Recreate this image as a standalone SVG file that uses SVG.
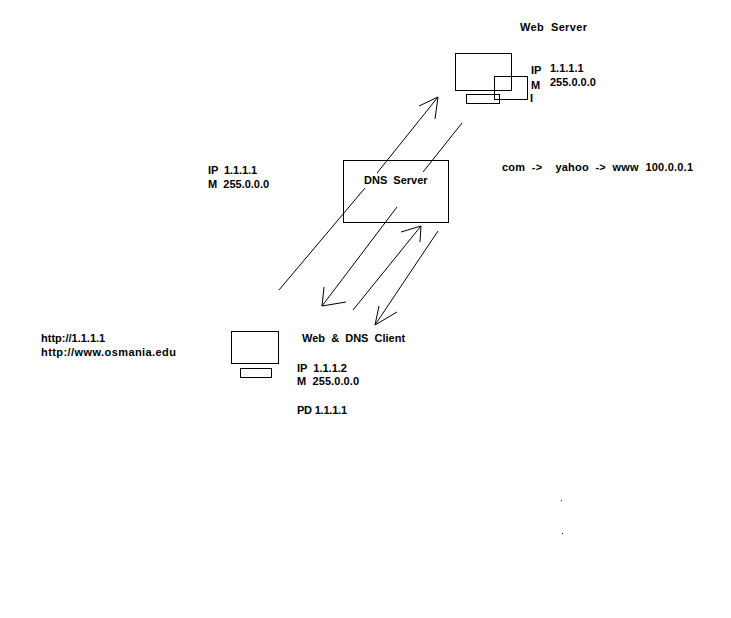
<svg xmlns="http://www.w3.org/2000/svg" width="731" height="618" viewBox="0 0 731 618">
<style>
rect{fill:none;stroke:#000;stroke-width:1;shape-rendering:crispEdges}
.c line,.c polyline{fill:none;stroke:#000;stroke-width:1}
text{font-family:"Liberation Sans",Arial,sans-serif;font-size:11px;font-weight:bold;fill:#000;white-space:pre}
</style>
<rect width="731" height="618" style="fill:#fff;stroke:none"/>
<g id="web-server">
<rect x="455.5" y="53.5" width="56" height="37"/>
<rect x="466.5" y="94.5" width="33" height="9"/>
<rect x="494.5" y="76.5" width="33" height="23"/>
<text x="520" y="31" textLength="67">Web  Server</text>
<text x="531" y="74">IP</text>
<text x="531" y="89">M</text>
<text x="530" y="102">I</text>
<text x="550" y="72">1.1.1.1</text>
<text x="550" y="86">255.0.0.0</text>
</g>
<g id="dns-server">
<rect x="343.5" y="160.5" width="105" height="62"/>
<text x="364" y="184">DNS  Server</text>
</g>
<g id="web-dns-client">
<rect x="231.5" y="331.5" width="47" height="32"/>
<rect x="240.5" y="368.5" width="31" height="9"/>
<text x="302" y="342">Web  &amp;  DNS  Client</text>
<text x="297" y="372">IP  1.1.1.2</text>
<text x="297" y="385" textLength="62">M  255.0.0.0</text>
<text x="297" y="414" textLength="50">PD 1.1.1.1</text>
<text x="41" y="342">http://1.1.1.1</text>
<text x="41" y="356" textLength="135">http://www.osmania.edu</text>
</g>
<g id="labels">
<text x="208" y="174" textLength="49">IP  1.1.1.1</text>
<text x="208" y="188">M  255.0.0.0</text>
<text x="502" y="171" textLength="191">com  -&gt;    yahoo  -&gt;  www  100.0.0.1</text>
</g>
<g id="connectors" class="c">
<line x1="279" y1="290" x2="365" y2="188"/>
<line x1="377" y1="173" x2="438" y2="97"/>
<polyline points="419,106 438,97 435,119"/>
<line x1="462" y1="123" x2="423" y2="172"/>
<line x1="397" y1="207" x2="322" y2="306"/>
<polyline points="324,287 322,306 346,302"/>
<line x1="353" y1="310" x2="421" y2="226"/>
<polyline points="401,232 421,226 420,242"/>
<line x1="438" y1="231" x2="375" y2="325"/>
<polyline points="379,306 375,325 397,312"/>
</g>
<g id="dots">
<rect x="561" y="500" width="1" height="1" style="fill:#000;stroke:none"/>
<rect x="562" y="533" width="1" height="1" style="fill:#000;stroke:none"/>
</g>
</svg>
